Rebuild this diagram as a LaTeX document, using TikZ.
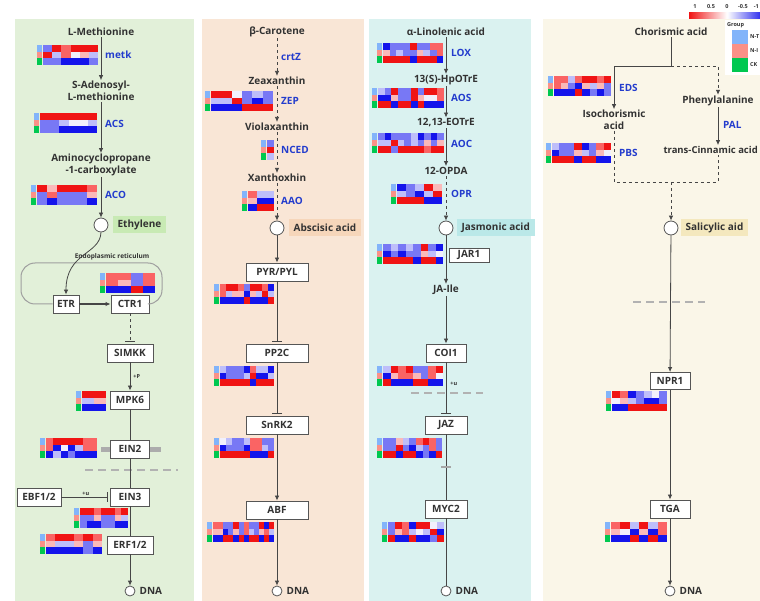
\documentclass[tikz,border=0pt]{standalone}
\usepackage{fontspec}
\setmainfont{Open Sans}
\usetikzlibrary{positioning,arrows.meta}

\definecolor{txt}{RGB}{50,50,50}
\definecolor{genecol}{RGB}{35,60,205}
\definecolor{boxcol}{RGB}{85,85,85}
\definecolor{linecol}{RGB}{70,70,70}
\definecolor{pone}{RGB}{226,240,217}
\definecolor{ptwo}{RGB}{249,230,214}
\definecolor{pthree}{RGB}{218,242,240}
\definecolor{pfour}{RGB}{250,246,232}
\definecolor{ethfill}{RGB}{200,234,180}
\definecolor{abafill}{RGB}{246,214,186}
\definecolor{jafill}{RGB}{186,232,232}
\definecolor{safill}{RGB}{244,232,190}
\definecolor{grpT}{RGB}{130,180,250}
\definecolor{grpI}{RGB}{250,145,135}
\definecolor{grpC}{RGB}{0,200,80}
\definecolor{hmR}{RGB}{240,20,20}
\definecolor{hmr}{RGB}{250,100,100}
\definecolor{hmp}{RGB}{250,185,185}
\definecolor{hmw}{RGB}{242,240,252}
\definecolor{hmq}{RGB}{190,190,250}
\definecolor{hmb}{RGB}{120,120,245}
\definecolor{hmB}{RGB}{20,20,235}

% heat map: x0, y0, cell width, three rows of cells
\newcommand{\hmap}[6]{%
  \begin{scope}[shift={(#1,#2)}]
    \fill[grpT] (0,0) rectangle (5,6.7);
    \fill[grpI] (0,6.7) rectangle (5,13.4);
    \fill[grpC] (0,13.4) rectangle (5,20.1);
    \foreach \c [count=\i] in {#4} \fill[hm\c] ({6+(\i-1)*#3},0) rectangle ({6+\i*#3},6.7);
    \foreach \c [count=\i] in {#5} \fill[hm\c] ({6+(\i-1)*#3},6.7) rectangle ({6+\i*#3},13.4);
    \foreach \c [count=\i] in {#6} \fill[hm\c] ({6+(\i-1)*#3},13.4) rectangle ({6+\i*#3},20.1);
  \end{scope}}

\begin{document}
\begin{tikzpicture}[x=1pt,y=-1pt]
      \tikzstyle{met}=[text=txt, font=\fontsize{10}{11.5}\selectfont\bfseries, align=center, inner sep=1pt]
      \tikzstyle{gene}=[text=genecol, font=\fontsize{10}{11}\selectfont\bfseries, anchor=west, inner sep=1pt]
      \tikzstyle{prot}=[rectangle, draw=boxcol, line width=0.9pt, fill=white, text=txt, font=\fontsize{10}{11}\selectfont\bfseries, minimum height=18pt, inner xsep=4pt, inner ysep=0pt]
      \tikzstyle{hub}=[circle, draw=boxcol, fill=white, line width=0.8pt, minimum size=14pt, inner sep=0pt]
      \tikzstyle{dnac}=[circle, draw=boxcol, fill=white, line width=0.8pt, minimum size=10pt, inner sep=0pt]
      \tikzstyle{hormone}=[rectangle, text=txt, font=\fontsize{10}{11}\selectfont\bfseries, minimum height=17pt, inner xsep=5pt]
      \tikzstyle{connect}=[-{Latex[length=5pt,width=4.5pt]}, line width=0.8pt, draw=linecol]
      \tikzstyle{inhib}=[-{Bar[width=10pt]}, line width=0.8pt, draw=linecol, shorten >=2pt]
      \tikzstyle{plain}=[line width=0.8pt, draw=linecol]
      \tikzstyle{sep}=[draw=gray!60, line width=1.5pt, dash pattern=on 8pt off 5pt]
      \tikzstyle{small}=[text=txt, font=\fontsize{5.5}{6}\selectfont\bfseries, inner sep=1pt]

      \useasboundingbox (0,0) rectangle (760,601);
      \fill[white] (0,0) rectangle (760,601);

      % panels
      \fill[pone] (15,19) rectangle (194,601);
      \fill[ptwo] (202,19) rectangle (364,601);
      \fill[pthree] (369,19) rectangle (531,601);
      \fill[pfour] (543,19) rectangle (765,601);

      % ethylene
      \node[met] (lmet) at (101,32) {L-Methionine};
      \node[met] (sam) at (101,91) {S-Adenosyl-\\L-methionine};
      \node[met] (acc) at (101,165) {Aminocyclopropane\\-1-carboxylate};
      \node[hub] (eth) at (101,225) {};
      \node[hormone, fill=ethfill, right=4pt of eth] (ethlab) {Ethylene};
      \node[gene] (metk) at (104,55) {metk};
      \node[gene] (acs) at (104,124) {ACS};
      \node[gene] (aco) at (104,195) {ACO};
      \hmap{37}{45}{9.2}{b,R,r,R,R,R}{R,q,r,w,p,q}{b,b,B,B,B,b}
      \hmap{34}{113}{9.5}{R,R,R,R,R,R}{b,b,q,w,w,q}{b,b,B,B,B,B}
      \hmap{31}{185}{10}{R,p,R,R,R,r}{b,r,b,b,b,p}{b,B,b,b,b,B}

      \node[prot] (etr) at (66,304) {ETR};
      \node[prot, minimum width=38pt] (ctr1) at (130,304) {CTR1};
      \node[small, font=\fontsize{6.5}{7}\selectfont\bfseries] (er) at (112,257) {Endoplasmic reticulum};
      \draw[draw=gray!75, line width=1pt, rounded corners=14pt] (etr.west) -- (21,304) -- (21,263) -- (162,263) -- (162,304) -- (ctr1.east);
      \hmap{100}{273}{12.3}{r,r,b,r}{r,p,b,r}{B,B,R,B}
      \node[prot, minimum width=46pt] (simkk) at (130,353) {SIMKK};
      \node[prot, minimum width=39pt] (mpk6) at (130,400) {MPK6};
      \node[prot, minimum width=39pt] (ein2) at (130,449) {EIN2};
      \node[prot, minimum width=39pt] (ein3) at (130,497) {EIN3};
      \node[prot, minimum width=44pt] (ebf) at (39,497) {EBF1/2};
      \node[prot, minimum width=46pt] (erf) at (130,545) {ERF1/2};
      \node[dnac] (dna1) at (130,591) {};
      \node[met, right=3pt of dna1] (dnal1) {DNA};
      \hmap{76}{391}{12}{R,R}{q,p}{B,B}
      \hmap{40}{438}{7.3}{r,R,R,R,R,r,r}{r,B,w,B,q,r,r}{B,q,B,b,B,B,B}
      \hmap{74}{508}{6.9}{R,R,r,R,R,r,R}{b,b,p,b,b,p,q}{b,B,B,b,b,B,B}
      \hmap{40}{534}{9.3}{r,R,R,r,R,r}{p,q,q,p,b,p}{B,B,B,B,b,B}

      \path (lmet) edge [connect] (sam)
        (sam) edge [connect] (acc)
        (acc) edge [connect] (eth);
      \draw[connect] (eth.south) .. controls (100,255) and (66,252) .. (etr.north);
      \draw[connect, line width=1.4pt] (etr) -- (ctr1);
      \draw[inhib, dashed] (ctr1) -- (simkk);
      \draw[connect] (simkk) -- (mpk6) node[small, midway, right=2pt] {+P};
      \draw[plain] (mpk6) -- (ein2);
      \draw[draw=gray!65, line width=5pt] (ein2.west) -- ++(-9,0);
      \draw[draw=gray!65, line width=5pt] (ein2.east) -- ++(11,0);
      \draw[sep] (85,470) -- (178,470);
      \draw[plain] (ein2) -- (ein3);
      \draw[inhib] (ebf) -- (ein3) node[small, midway, above] {+u};
      \draw[plain] (ein3) -- (erf);
      \draw[connect] (erf) -- (dna1);

      % abscisic acid
      \node[met] (bcar) at (277,32) {β-Carotene};
      \node[met] (zea) at (277,81) {Zeaxanthin};
      \node[met] (vio) at (277,127) {Violaxanthin};
      \node[met] (xan) at (277,178) {Xanthoxhin};
      \node[hub] (aba) at (277,228) {};
      \node[hormone, fill=abafill, right=4pt of aba] (abalab) {Abscisic acid};
      \node[gene] (crtz) at (280,57) {crtZ};
      \node[gene] (zep) at (280,101) {ZEP};
      \node[gene] (nced) at (280,150) {NCED};
      \node[gene] (aao) at (280,201) {AAO};
      \hmap{205}{91}{10.3}{R,R,w,b,q,b}{q,q,R,b,B,b}{B,B,B,R,R,R}
      \hmap{261}{140}{7}{b}{R}{q}
      \hmap{242}{191}{8.7}{r,q,q}{p,B,B}{B,R,R}

      \node[prot, minimum width=62pt] (pyr) at (277,272) {PYR/PYL};
      \node[prot, minimum width=62pt] (pp2c) at (277,353) {PP2C};
      \node[prot, minimum width=62pt] (snrk2) at (277,425) {SnRK2};
      \node[prot, minimum width=62pt] (abf) at (277,510) {ABF};
      \node[dnac] (dna2) at (277,591) {};
      \node[met, right=3pt of dna2] (dnal2) {DNA};
      \hmap{214}{284}{6}{r,R,R,r,b,R,R,r,B}{r,q,p,p,B,p,q,R,q}{B,B,B,B,R,B,B,B,R}
      \hmap{214}{366}{6}{q,b,b,b,B,r,q,q,B}{B,b,b,b,q,R,B,B,q}{R,R,R,R,R,B,R,R,R}
      \hmap{214}{438}{6}{w,q,b,b,q,r,r,b,b}{B,b,b,b,B,r,r,q,b}{R,R,R,R,R,B,B,B,R}
      \hmap{207}{522}{5.1}{r,r,b,b,R,b,r,b,b,R,B,R}{p,p,B,b,p,b,r,q,b,p,r,q}{B,B,R,R,B,R,B,R,R,B,R,B}

      \path (bcar) edge [connect, dashed] (zea)
        (zea) edge [connect, dashed] (vio)
        (vio) edge [connect, dashed] (xan)
        (xan) edge [connect, dashed] (aba);
      \draw[connect] (aba) -- (pyr);
      \draw[inhib] (pyr) -- (pp2c);
      \draw[inhib] (pp2c) -- (snrk2);
      \draw[connect] (snrk2) -- (abf);
      \draw[connect] (abf) -- (dna2);

      % jasmonic acid
      \node[met] (ala) at (446,32) {α-Linolenic acid};
      \node[met] (hpo) at (446,80) {13(S)-HpOTrE};
      \node[met] (eot) at (446,123) {12,13-EOTrE};
      \node[met] (opda) at (446,171) {12-OPDA};
      \node[hub] (ja) at (446,228) {};
      \node[hormone, fill=jafill, right=3pt of ja] (jalab) {Jasmonic acid};
      \node[gene] (lox) at (450,53) {LOX};
      \node[gene] (aos) at (450,98) {AOS};
      \node[gene] (aoc) at (450,144) {AOC};
      \node[gene] (opr) at (450,194) {OPR};
      \hmap{377}{43}{6.7}{B,b,b,b,R,b,b,r,r}{p,b,q,b,b,p,q,b,r}{R,R,R,R,B,R,R,R,B}
      \hmap{372}{88}{6.6}{q,b,R,b,b,R,b,R,R,r}{B,B,p,b,b,R,p,w,w,r}{R,R,B,R,R,B,R,B,B,B}
      \hmap{372}{133}{6.6}{b,B,b,b,b,q,B,b,B,b}{q,q,R,q,b,q,b,p,b,p}{R,R,b,R,R,R,R,r,R,R}
      \hmap{391}{184}{9}{B,b,q,R,p}{q,b,B,q,R}{R,R,R,B,B}

      \node[prot, minimum width=40pt, minimum height=14pt] (jar1) at (469,255) {JAR1};
      \node[met] (jaile) at (446,290) {JA-Ile};
      \node[prot, minimum width=40pt] (coi1) at (446,353) {COI1};
      \node[prot, minimum width=42pt] (jaz) at (446,425) {JAZ};
      \node[prot, minimum width=42pt] (myc2) at (446,509) {MYC2};
      \node[dnac] (dna3) at (446,591) {};
      \node[met, right=3pt of dna3] (dnal3) {DNA};
      \hmap{377}{244}{7.5}{b,q,b,q,b,R,b,B}{B,b,B,b,b,p,q,w}{R,R,R,R,B,R,R,B}
      \hmap{377}{366}{7.5}{q,R,r,R,b,b,r,R}{B,p,r,r,p,b,r,w}{R,B,B,B,R,R,B,B}
      \hmap{377}{438}{6.6}{b,b,p,q,b,r,R,r,b}{b,b,R,b,B,q,b,r,b}{R,R,B,R,R,B,b,B,R}
      \hmap{382}{522}{7}{b,R,r,B,R,R,w,q}{b,p,r,q,w,q,R,B}{R,B,B,R,B,B,b,R}

      \path (ala) edge [connect] (hpo)
        (hpo) edge [connect] (eot)
        (eot) edge [connect] (opda)
        (opda) edge [connect, dashed] (ja);
      \draw[connect] (ja) -- (jaile);
      \draw[connect] (jaile) -- (coi1);
      \draw[sep] (411,393) -- (483,393);
      \draw[inhib] (coi1) -- (jaz) node[small, pos=0.4, right=3pt] {+u};
      \draw[plain] (jaz) -- (myc2) coordinate[midway] (jm);
      \draw[draw=gray!70, line width=1.5pt] (jm) ++(-5,0) -- ++(10,0);
      \draw[plain] (myc2) -- (dna3);

      % salicylic acid
      \node[met] (cho) at (671,32) {Chorismic acid};
      \node[met] (iso) at (614,120) {Isochorismic\\acid};
      \node[met] (phe) at (718,101) {Phenylalanine};
      \node[met, anchor=east, font=\fontsize{9.5}{11}\selectfont\bfseries] (tca) at (759,150) {trans-Cinnamic acid};
      \node[hub] (sa) at (671,228) {};
      \node[hormone, fill=safill, right=2pt of sa] (salab) {Salicylic aid};
      \node[gene] (eds) at (618,88) {EDS};
      \node[gene] (pal) at (722,125) {PAL};
      \node[gene] (pbs) at (618,153) {PBS};
      \hmap{548}{76}{7.1}{r,r,q,r,R,R,r,R}{r,p,b,B,p,q,p,b}{B,B,B,R,B,b,B,b}
      \hmap{546}{143}{7.4}{q,b,b,R,B,b,r,R}{B,b,b,p,q,b,p,w}{R,R,R,B,R,R,B,B}
      \coordinate (cj) at (671,66);
      \coordinate (cl) at (614,66);
      \coordinate (cr) at (718,66);
      \coordinate (bl) at (614,182);
      \coordinate (br) at (718,182);
      \coordinate (bj) at (671,182);
      \draw[plain] (cho) -- (cj);
      \draw[connect] (cj) -- (cl) -- (iso);
      \draw[connect, dashed] (cj) -- (cr) -- (phe);
      \draw[connect] (phe) -- (phe |- tca.north);
      \draw[plain, dashed] (iso) -- (bl) -- (br) -- (br |- tca.south);
      \draw[connect, dashed] (bj) -- (sa);

      \node[prot, minimum width=40pt, minimum height=17pt] (npr1) at (670,381) {NPR1};
      \node[prot, minimum width=40pt] (tga) at (670,509) {TGA};
      \node[dnac] (dna4) at (670,591) {};
      \node[met, right=3pt of dna4] (dnal4) {DNA};
      \hmap{606}{391}{7.9}{R,r,B,b,q,w,b}{w,p,q,b,B,B,b}{B,B,R,R,R,R,R}
      \hmap{605}{522}{9.3}{r,R,q,R,q,r}{p,w,B,p,B,r}{B,B,R,B,R,B}
      \draw[sep] (633,302) -- (705,302);
      \draw[connect] (sa) -- (npr1);
      \draw[connect] (npr1) -- (tga);
      \draw[connect] (tga) -- (dna4);

      % legend
      \shade[left color=hmR, right color=hmB, middle color=white] (689,13) rectangle (765,19);
      \node[small] (k1) at (695,7) {1};
      \node[small] (k2) at (711,7) {0.5};
      \node[small] (k3) at (727,7) {0};
      \node[small] (k4) at (743,7) {-0.5};
      \node[small, anchor=east] (k5) at (760,7) {-1};
      \fill[white] (725,20) rectangle (765,75);
      \node[small, anchor=west] (grp) at (726,25) {Group};
      \fill[grpT] (732,30) rectangle (748,44);
      \fill[grpI] (732,44) rectangle (748,58);
      \fill[grpC] (732,58) rectangle (748,72);
      \node[small, anchor=west] (gT) at (749,37) {N-T};
      \node[small, anchor=west] (gI) at (749,51) {N-I};
      \node[small, anchor=west] (gC) at (749,65) {CK};
\end{tikzpicture}
\end{document}
